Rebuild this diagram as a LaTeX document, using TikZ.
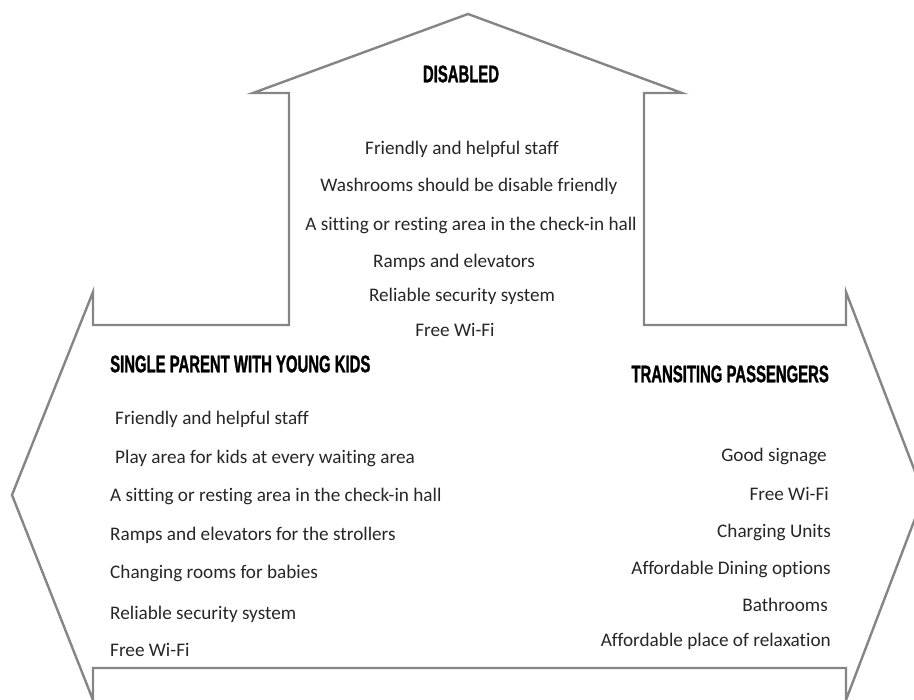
\documentclass[tikz,border=0pt]{standalone}
\usepackage{fontspec}
\setmainfont{Carlito}[Ligatures={NoCommon}]
\newfontfamily\headfont[FakeStretch=0.62,FakeBold=1.2]{Liberation Sans}
\begin{document}
\begin{tikzpicture}[x=1pt,y=-1pt,
  outline/.style={draw=black!48,line width=2.4pt,line join=miter},
  heading/.style={font=\headfont\bfseries\fontsize{24}{26}\selectfont,text=black,inner sep=0pt},
  item/.style={font=\fontsize{19.2}{21}\selectfont,text=black!85,inner sep=0pt},
  itemL/.style={item,anchor=west},
  itemR/.style={item,anchor=east}]
\useasboundingbox (0,0) rectangle (914,700);

% four-way arrow outline, its lower arm running off the bottom edge
\begin{scope}
\clip (0,0) rectangle (914,700);
\draw[outline] (253,93) -- (468,14) -- (682,93) -- (644,93) -- (644,325)
  -- (846,325) -- (846,292) -- (924,495) -- (846,700) -- (846,668)
  -- (93,668) -- (93,700) -- (12,495) -- (93,292) -- (93,325)
  -- (289,325) -- (289,93) -- cycle;
\end{scope}

% upper arm
\node[heading] (dis) at (461,74) {DISABLED};
\node[item] (d1) at (462,149) {Friendly and helpful staff};
\node[item] (d2) at (469,186) {Washrooms should be disable friendly};
\node[item] (d3) at (471,225) {A sitting or resting area in the check-in hall};
\node[item] (d4) at (454,262) {Ramps and elevators};
\node[item] (d5) at (462,296) {Reliable security system};
\node[item] (d6) at (455,330) {Free Wi-Fi};

% left arm
\node[heading,anchor=west] (sp) at (110,364) {SINGLE PARENT WITH YOUNG KIDS};
\node[itemL] (s1) at (115,419) {Friendly and helpful staff};
\node[itemL] (s2) at (115,458) {Play area for kids at every waiting area};
\node[itemL] (s3) at (110,496) {A sitting or resting area in the check-in hall};
\node[itemL] (s4) at (110,535) {Ramps and elevators for the strollers};
\node[itemL] (s5) at (110,573) {Changing rooms for babies};
\node[itemL] (s6) at (110,614) {Reliable security system};
\node[itemL] (s7) at (110,650) {Free Wi-Fi};

% right arm
\node[heading,anchor=east] (tp) at (829,374) {TRANSITING PASSENGERS};
\node[itemR] (t1) at (827,456) {Good signage};
\node[itemR] (t2) at (829,494) {Free Wi-Fi};
\node[itemR] (t3) at (831,532) {Charging Units};
\node[itemR] (t4) at (831,569) {Affordable Dining options};
\node[itemR] (t5) at (828,605) {Bathrooms};
\node[itemR] (t6) at (831,641) {Affordable place of relaxation};
\end{tikzpicture}
\end{document}
